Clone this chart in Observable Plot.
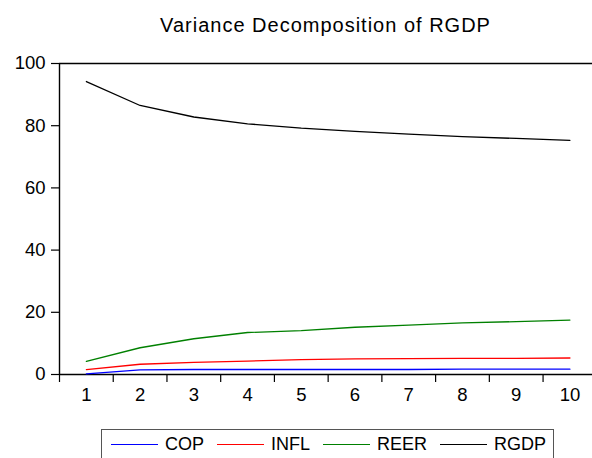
<!DOCTYPE html>
<html>
<head>
<meta charset="utf-8">
<script src="https://cdn.jsdelivr.net/npm/d3@7"></script>
<script src="https://cdn.jsdelivr.net/npm/@observablehq/plot@0.6"></script>
<style>
  html, body { margin: 0; padding: 0; background: #fff; }
  body { width: 592px; height: 458px; overflow: hidden; font-family: "Liberation Sans", Arial, sans-serif; color: #000; }
  #title { height: 45px; box-sizing: border-box; padding-left: 59px; width: 592px; text-align: center;
           font-size: 20px; letter-spacing: 1px; line-height: 20px; padding-top: 15px; }
  #chart svg { display: block; }
  #legend { margin-top: 10px; margin-left: 101px; width: 453px; height: 30px; box-sizing: border-box;
            border: 1px solid #555; display: flex; align-items: center; padding-left: 9px; font-size: 18px; }
  .item { display: flex; align-items: center; margin-right: 13px; }
  .swatch { width: 47px; height: 0; border-top: 1.4px solid; margin-right: 7px; }
</style>
</head>
<body>
<div id="title">Variance Decomposition of RGDP</div>
<div id="chart"></div>
<div id="legend"></div>
<script>
const periods = [1, 2, 3, 4, 5, 6, 7, 8, 9, 10];
const cop  = [0.2, 1.5, 1.6, 1.6, 1.6, 1.6, 1.6, 1.7, 1.7, 1.7];
const infl = [1.6, 3.3, 3.9, 4.3, 4.8, 5.0, 5.1, 5.2, 5.2, 5.3];
const reer = [4.2, 8.6, 11.5, 13.5, 14.1, 15.2, 15.9, 16.6, 17.0, 17.5];
const rgdp = [94.2, 86.5, 82.8, 80.6, 79.2, 78.2, 77.3, 76.5, 75.9, 75.3];
const seriesNames = ["COP", "INFL", "REER", "RGDP"];
const seriesValues = [cop, infl, reer, rgdp];
const yTicks = [0, 20, 40, 60, 80, 100];

const colorOf = {COP: "#0000ff", INFL: "#ff0000", REER: "#008000", RGDP: "#000000"};

const data = seriesNames.flatMap((name, i) =>
  periods.map((p, j) => ({period: p, value: seriesValues[i][j], series: name})));

const halfTicks = d3.range(0.5, 10.6, 1);

const chart = Plot.plot({
  width: 592,
  height: 374,
  marginLeft: 59,
  marginRight: 0,
  marginTop: 18,
  marginBottom: 45,
  style: {fontFamily: '"Liberation Sans", Arial, sans-serif', fontSize: "18.5px", color: "#000", background: "#fff"},
  x: {domain: [0.5, 10.42]},
  y: {domain: [0, 100]},
  marks: [
    Plot.axisY({ticks: yTicks, tickSize: 8, tickPadding: 6, label: null, strokeWidth: 1.2}),
    Plot.axisX({ticks: halfTicks, tickSize: 8, tickFormat: () => "", label: null, strokeWidth: 1.2}),
    Plot.axisX({ticks: periods, tickSize: 0, tickPadding: 13, label: null}),
    Plot.ruleY([0, 100], {stroke: "#000", strokeWidth: 1.4}),
    Plot.ruleX([0.5], {y1: 0, y2: 100, stroke: "#000", strokeWidth: 1.4}),
    ...seriesNames.map(name => Plot.lineY(data.filter(d => d.series === name),
      {x: "period", y: "value", stroke: colorOf[name], strokeWidth: 1.3}))
  ]
});
document.getElementById("chart").appendChild(chart);

const legend = document.getElementById("legend");
seriesNames.forEach(name => {
  const item = document.createElement("div");
  item.className = "item";
  const sw = document.createElement("span");
  sw.className = "swatch";
  sw.style.borderTopColor = colorOf[name];
  const label = document.createElement("span");
  label.textContent = name;
  item.appendChild(sw);
  item.appendChild(label);
  legend.appendChild(item);
});
</script>
</body>
</html>
